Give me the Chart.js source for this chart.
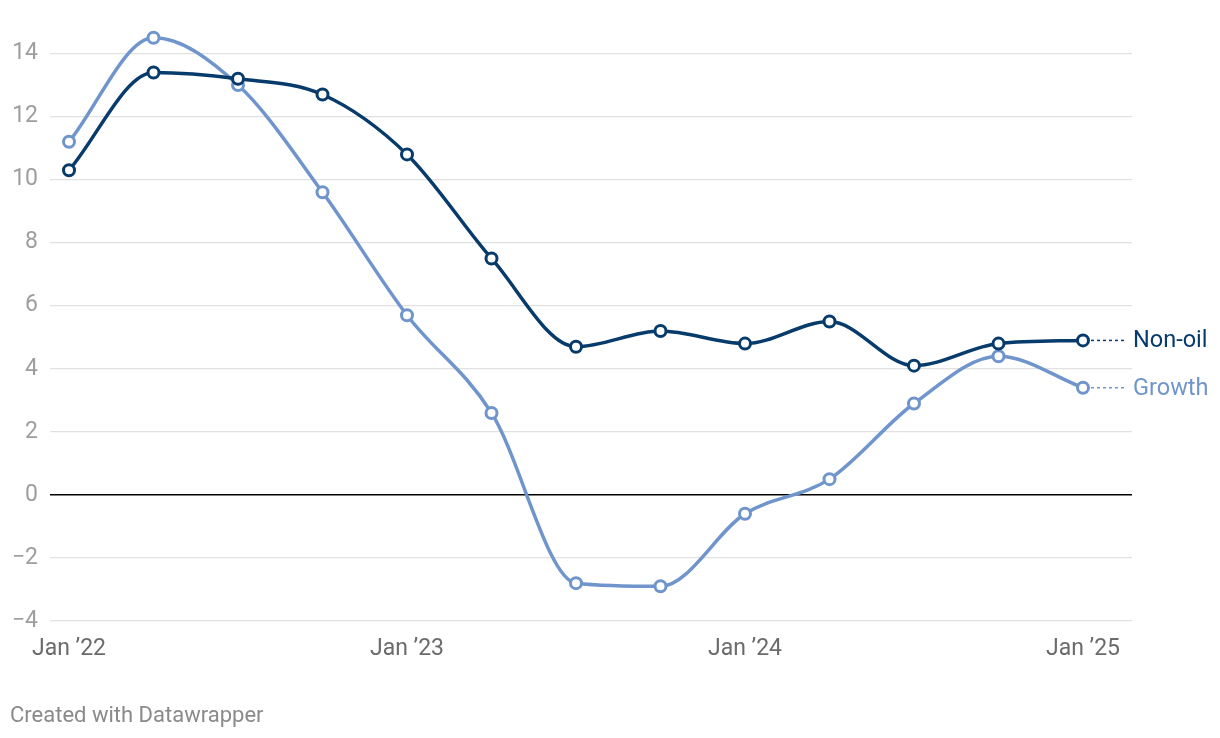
<!DOCTYPE html>
<html>
<head>
<meta charset="utf-8">
<script src="https://cdn.jsdelivr.net/npm/chart.js@4.4.1/dist/chart.umd.min.js"></script>
<style>
  html, body { margin: 0; padding: 0; background: #fff; }
  #wrap { width: 1220px; height: 738px; position: relative; }
</style>
</head>
<body>
<div id="wrap"><canvas id="chart" width="1220" height="738"></canvas></div>
<script>
	'use strict';

	// quarterly points, Jan '22 .. Jan '25
	var quarters = ['Jan 22', 'Apr 22', 'Jul 22', 'Oct 22', 'Jan 23', 'Apr 23', 'Jul 23', 'Oct 23',
		'Jan 24', 'Apr 24', 'Jul 24', 'Oct 24', 'Jan 25'];
	var nonOil = [10.3, 13.4, 13.2, 12.7, 10.8, 7.5, 4.7, 5.2, 4.8, 5.5, 4.1, 4.8, 4.9];
	var growth = [11.2, 14.5, 13.0, 9.6, 5.7, 2.6, -2.8, -2.9, -0.6, 0.5, 2.9, 4.4, 3.4];
	var xTickPos = [0, 4, 8, 12];
	var xTickLabels = ['Jan \u201922', 'Jan \u201923', 'Jan \u201924', 'Jan \u201925'];
	var yTicks = [-4, -2, 0, 2, 4, 6, 8, 10, 12, 14];
	var seriesNames = ['Non-oil', 'Growth'];

	var navy = '#073b6c',
		blue = '#6f95cc',
		font = 'Roboto';

	function toPoints(arr) {
		return arr.map(function (v, i) { return { x: i, y: v }; });
	}

	function lineSet(label, values, color) {
		return {
			label: label,
			data: toPoints(values),
			borderColor: color,
			borderWidth: 3.5,
			pointRadius: 5.5,
			pointBorderWidth: 3,
			pointBackgroundColor: '#fff',
			pointBorderColor: color,
			cubicInterpolationMode: 'monotone',
			clip: false
		};
	}

	var endLabels = {
		id: 'endLabels',
		afterDatasetsDraw: function (chart) {
			var ctx = chart.ctx;
			ctx.save();
			chart.data.datasets.forEach(function (ds, i) {
				var meta = chart.getDatasetMeta(i);
				var last = meta.data[meta.data.length - 1];
				ctx.strokeStyle = ds.borderColor;
				ctx.lineWidth = 1.5;
				ctx.setLineDash([3, 3]);
				ctx.beginPath();
				ctx.moveTo(last.x + 8, last.y);
				ctx.lineTo(last.x + 44, last.y);
				ctx.stroke();
				ctx.setLineDash([]);
				ctx.fillStyle = ds.borderColor;
				ctx.font = '23.5px ' + font;
				ctx.textBaseline = 'middle';
				ctx.textAlign = 'left';
				ctx.fillText(seriesNames[i], last.x + 50, last.y + 1);
			});
			ctx.fillStyle = '#8a8a8a';
			ctx.font = '22px ' + font;
			ctx.textBaseline = 'alphabetic';
			ctx.fillText('Created with Datawrapper', 10, 722);
			ctx.restore();
		}
	};

	new Chart(document.getElementById('chart'), {
		type: 'line',
		data: {
			datasets: [lineSet(seriesNames[0], nonOil, navy), lineSet(seriesNames[1], growth, blue)]
		},
		options: {
			responsive: false,
			animation: false,
			layout: { padding: { top: 13, right: 88, left: 0, bottom: 0 } },
			plugins: { legend: { display: false }, tooltip: { enabled: false } },
			scales: {
				x: {
					type: 'linear',
					min: -0.225,
					max: 12.58,
					afterBuildTicks: function (axis) {
						axis.ticks = xTickPos.map(function (v) { return { value: v }; });
					},
					afterFit: function (axis) { axis.height = 117; },
					ticks: {
						callback: function (v) { return xTickLabels[xTickPos.indexOf(v)]; },
						color: '#6b6b6b',
						font: { family: font, size: 23 },
						padding: 6,
						maxRotation: 0,
						autoSkip: false
					},
					grid: { display: false },
					border: { display: false }
				},
				y: {
					min: -4,
					max: 14.88,
					afterBuildTicks: function (axis) {
						axis.ticks = yTicks.map(function (v) { return { value: v }; });
					},
					afterFit: function (axis) { axis.width = 50; },
					ticks: {
						callback: function (v) { return v < 0 ? '\u2212' + Math.abs(v) : String(v); },
						color: '#9e9e9e',
						font: { family: font, size: 23 },
						padding: 12
					},
					grid: {
						drawTicks: false,
						color: function (c) { return c.tick && c.tick.value === 0 ? '#000' : '#e1e1e1'; },
						lineWidth: function (c) { return c.tick && c.tick.value === 0 ? 1.5 : 1.2; }
					},
					border: { display: false }
				}
			}
		},
		plugins: [endLabels]
	});
</script>
</body>
</html>
